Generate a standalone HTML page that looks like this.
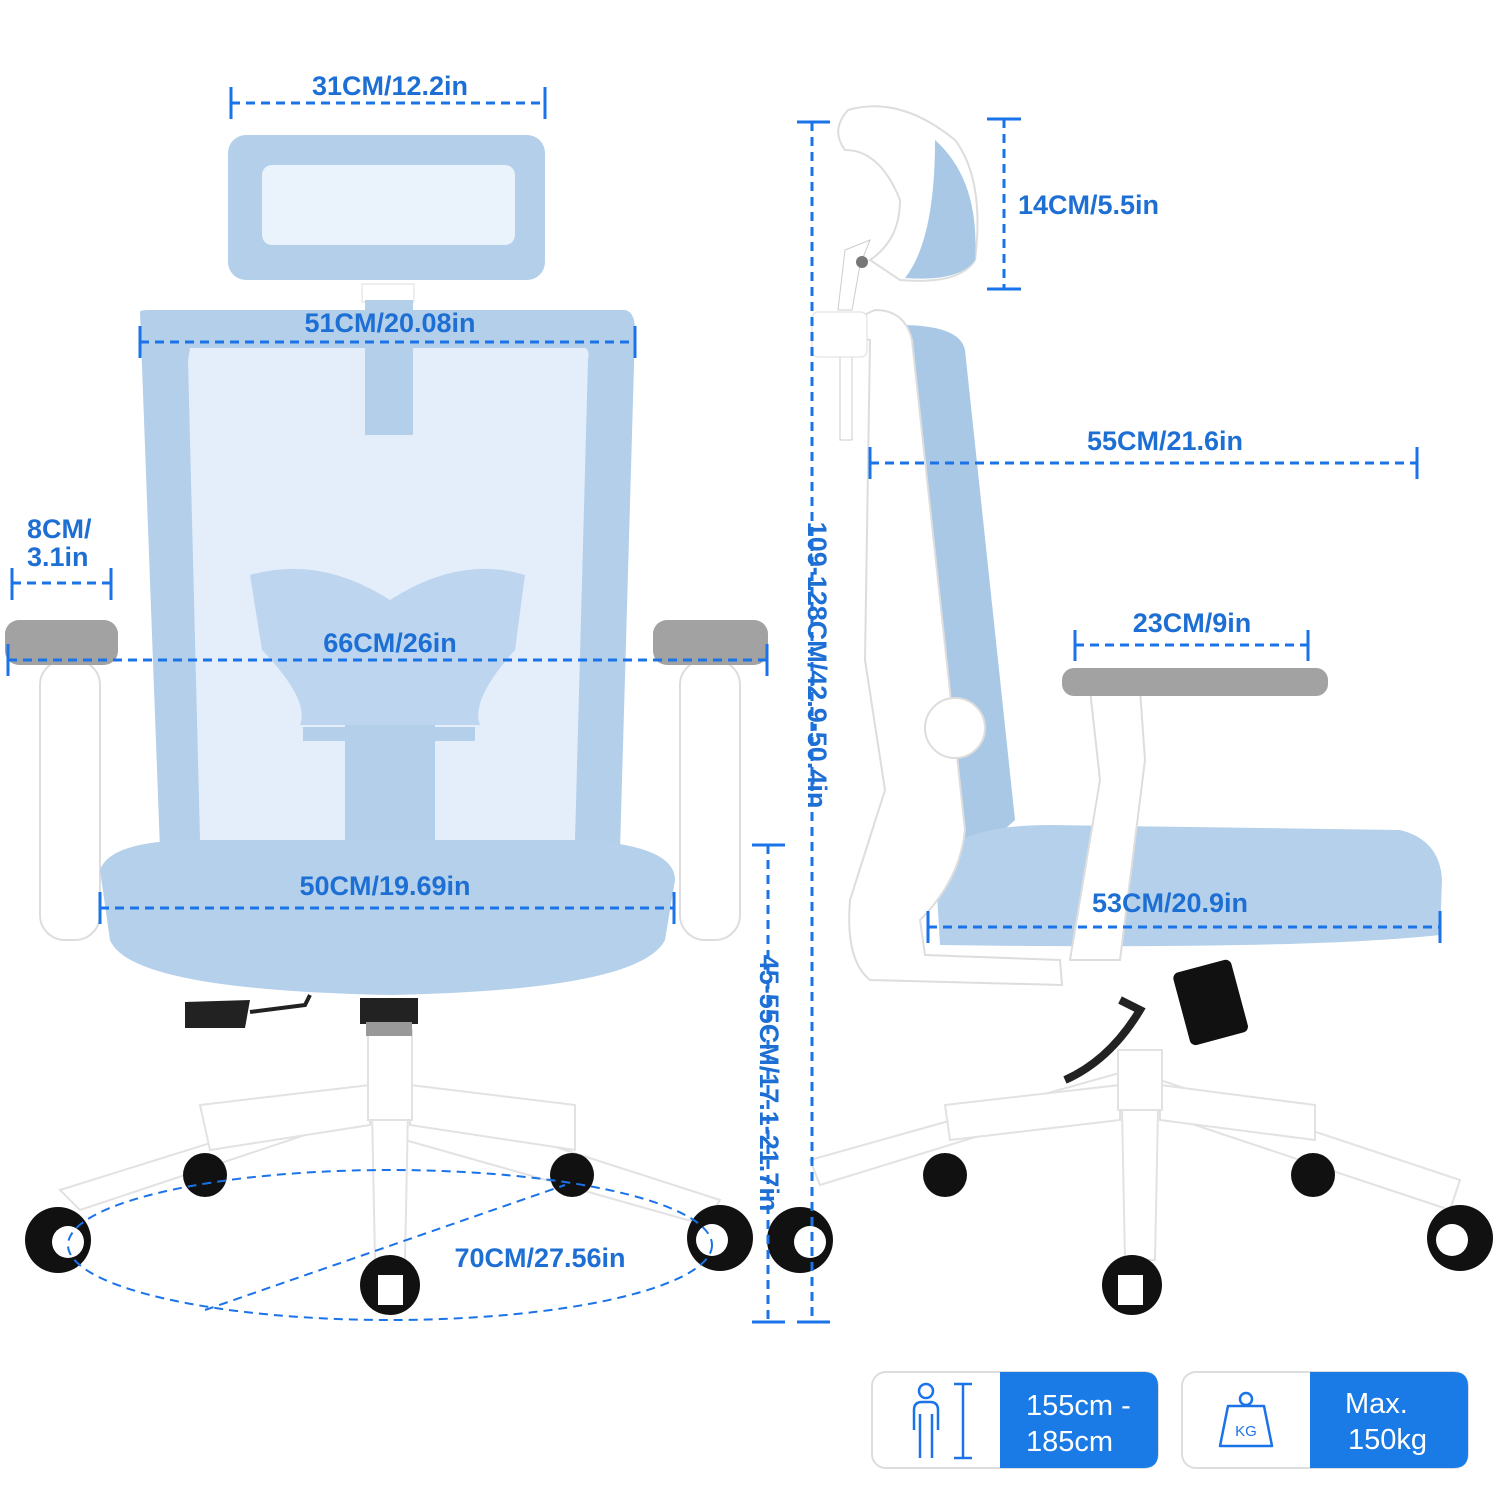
<!DOCTYPE html>
<html><head><meta charset="utf-8"><style>
html,body{margin:0;padding:0;background:#fff;}
svg{display:block}
.t{font-family:"Liberation Sans",sans-serif;font-weight:bold;font-size:27px;fill:#1d6fd4}
.d{stroke:#1a73e8;stroke-width:3;stroke-dasharray:9 6;fill:none}
.k{stroke:#1a73e8;stroke-width:3;fill:none}
.w{font-family:"Liberation Sans",sans-serif;font-size:29px;fill:#fff}
</style></head><body>
<svg width="1500" height="1500" viewBox="0 0 1500 1500" xmlns="http://www.w3.org/2000/svg">
<g fill="#fff" stroke="#e2e2e2" stroke-width="2">
<polygon points="370,1100 410,1100 720,1200 705,1225 405,1140"/>
<polygon points="370,1100 410,1100 80,1210 60,1190 380,1090"/>
<polygon points="200,1105 370,1085 370,1125 210,1150"/>
<polygon points="410,1085 575,1105 575,1150 410,1125"/>
<polygon points="372,1110 408,1110 405,1260 375,1260"/>
<rect x="368" y="1030" width="44" height="90"/>
</g>
<g fill="#111">
<circle cx="58" cy="1240" r="33"/><circle cx="720" cy="1238" r="33"/>
<circle cx="390" cy="1285" r="30"/><circle cx="205" cy="1175" r="22"/><circle cx="572" cy="1175" r="22"/>
</g>
<g fill="#fff"><circle cx="68" cy="1242" r="16"/><circle cx="712" cy="1240" r="16"/><rect x="378" y="1275" width="25" height="30"/></g>
<rect x="360" y="998" width="58" height="26" fill="#222"/>
<rect x="366" y="1022" width="46" height="14" fill="#999"/>
<path d="M185 1002 L250 1000 L245 1028 L185 1028 Z" fill="#222"/>
<path d="M250 1012 L305 1005 L310 995" stroke="#222" stroke-width="4" fill="none"/>
<rect x="40" y="660" width="60" height="280" rx="25" fill="#fff" stroke="#ddd" stroke-width="2"/>
<rect x="680" y="660" width="60" height="280" rx="25" fill="#fff" stroke="#ddd" stroke-width="2"/>
<rect x="5" y="620" width="113" height="45" rx="14" fill="#a2a2a2"/>
<rect x="653" y="620" width="115" height="45" rx="14" fill="#a2a2a2"/>
<path d="M140 312 Q140 310 150 310 L625 310 Q635 312 635 330 L620 850 L160 850 Z" fill="#b3cfea"/>
<path d="M190 348 L585 348 Q590 350 588 360 L575 840 L200 840 L188 360 Z" fill="#e3eefa"/>
<path d="M250 575 Q320 555 390 600 Q460 555 525 575 L515 650 Q470 700 480 725 L300 725 Q310 700 262 650 Z" fill="#bdd5ee"/>
<rect x="345" y="725" width="90" height="115" fill="#b3cfea"/>
<rect x="303" y="727" width="172" height="14" fill="#b3cfea"/>
<rect x="362" y="284" width="52" height="18" fill="#fff" stroke="#ddd"/>
<rect x="365" y="300" width="48" height="135" fill="#b3cfea"/>
<rect x="228" y="135" width="317" height="145" rx="18" fill="#b3cfea"/>
<rect x="262" y="165" width="253" height="80" rx="10" fill="#eaf2fb"/>
<path d="M100 870 Q110 840 200 840 L580 840 Q675 845 675 880 L665 940 Q640 990 390 995 Q130 990 110 940 Z" fill="#b5d0ea"/>
<text class="t" x="390" y="95" text-anchor="middle">31CM/12.2in</text>
<line class="d" x1="231" y1="103" x2="545" y2="103"/><line class="k" x1="231" y1="87" x2="231" y2="119"/><line class="k" x1="545" y1="87" x2="545" y2="119"/>
<text class="t" x="390" y="332" text-anchor="middle">51CM/20.08in</text>
<line class="d" x1="140" y1="342" x2="635" y2="342"/><line class="k" x1="140" y1="326" x2="140" y2="358"/><line class="k" x1="635" y1="326" x2="635" y2="358"/>
<text class="t" x="27" y="538">8CM/</text><text class="t" x="27" y="566">3.1in</text>
<line class="d" x1="12" y1="583" x2="111" y2="583"/><line class="k" x1="12" y1="568" x2="12" y2="600"/><line class="k" x1="111" y1="568" x2="111" y2="600"/>
<text class="t" x="390" y="652" text-anchor="middle">66CM/26in</text>
<line class="d" x1="8" y1="660" x2="767" y2="660"/><line class="k" x1="8" y1="644" x2="8" y2="676"/><line class="k" x1="767" y1="644" x2="767" y2="676"/>
<text class="t" x="385" y="895" text-anchor="middle">50CM/19.69in</text>
<line class="d" x1="100" y1="908" x2="674" y2="908"/><line class="k" x1="100" y1="892" x2="100" y2="924"/><line class="k" x1="674" y1="892" x2="674" y2="924"/>
<ellipse class="d" cx="390" cy="1245" rx="322" ry="75" style="stroke-width:2"/>
<line class="d" x1="205" y1="1310" x2="565" y2="1185" style="stroke-width:2"/>
<text class="t" x="540" y="1267" text-anchor="middle">70CM/27.56in</text>

<g fill="#fff" stroke="#e2e2e2" stroke-width="2">
<polygon points="1120,1080 1160,1080 1460,1180 1450,1210 1150,1110"/>
<polygon points="1120,1080 1160,1080 820,1185 810,1160 1130,1070"/>
<polygon points="945,1105 1120,1085 1120,1120 950,1140"/>
<polygon points="1160,1085 1315,1105 1315,1140 1160,1120"/>
<polygon points="1122,1110 1158,1110 1155,1260 1125,1260"/>
<rect x="1118" y="1050" width="44" height="60"/>
</g>
<g fill="#111">
<circle cx="800" cy="1240" r="33"/><circle cx="1460" cy="1238" r="33"/>
<circle cx="1132" cy="1285" r="30"/><circle cx="945" cy="1175" r="22"/><circle cx="1313" cy="1175" r="22"/>
</g>
<g fill="#fff"><circle cx="810" cy="1242" r="16"/><circle cx="1452" cy="1240" r="16"/><rect x="1118" y="1275" width="25" height="30"/></g>
<rect x="1180" y="965" width="60" height="75" rx="6" fill="#111" transform="rotate(-15 1210 1000)"/>
<path d="M1065 1080 Q1110 1060 1140 1010 L1120 1000" stroke="#222" stroke-width="8" fill="none"/>
<path d="M900 325 Q960 325 965 350 L1015 820 L960 870 L905 340 Z" fill="#a9c8e6"/>
<path d="M935 860 Q960 825 1050 825 L1400 830 Q1440 840 1442 880 L1440 935 Q1300 950 940 945 Z" fill="#b5d0ea"/>
<path d="M830 330 L875 310 Q905 310 912 340 L965 830 Q960 880 920 920 L925 955 L1060 960 L1062 985 L870 980 Q845 960 850 900 L885 790 L865 660 L870 340 Z" fill="#fff" stroke="#ddd" stroke-width="2"/>
<circle cx="955" cy="728" r="30" fill="#fff" stroke="#ddd" stroke-width="2"/>
<rect x="840" y="330" width="12" height="110" fill="#fff" stroke="#ccc"/>
<rect x="812" y="312" width="55" height="45" rx="6" fill="#fff" stroke="#ddd"/>
<path d="M848 110 Q900 95 955 140 Q985 180 975 260 Q960 285 900 280 L870 260 Q900 240 900 200 Q880 150 845 150 Q830 130 848 110 Z" fill="#fff" stroke="#ddd" stroke-width="2"/>
<path d="M935 140 Q980 180 975 260 Q960 282 905 278 Q935 240 935 140 Z" fill="#a9c8e6"/>
<path d="M870 240 L845 250 L838 310 L852 310 L860 265 Z" fill="#fff" stroke="#ccc"/>
<circle cx="862" cy="262" r="6" fill="#777"/>
<path d="M1090 690 L1140 690 L1145 760 L1120 960 L1070 960 L1100 780 Z" fill="#fff" stroke="#ddd" stroke-width="2"/>
<rect x="1062" y="668" width="266" height="28" rx="12" fill="#a2a2a2"/>
<line class="d" x1="812" y1="122" x2="812" y2="1322"/><line class="k" x1="797" y1="122" x2="830" y2="122"/><line class="k" x1="797" y1="1322" x2="830" y2="1322"/>
<text class="t" x="0" y="0" text-anchor="middle" transform="translate(808 665) rotate(90)">109-128CM/42.9-50.4in</text>
<line class="d" x1="768" y1="845" x2="768" y2="1322"/><line class="k" x1="752" y1="845" x2="785" y2="845"/><line class="k" x1="752" y1="1322" x2="785" y2="1322"/>
<text class="t" x="0" y="0" text-anchor="middle" transform="translate(760 1083) rotate(90)">45-55CM/17.1-21.7in</text>
<line class="d" x1="1004" y1="119" x2="1004" y2="289"/><line class="k" x1="987" y1="119" x2="1021" y2="119"/><line class="k" x1="987" y1="289" x2="1021" y2="289"/>
<text class="t" x="1018" y="214">14CM/5.5in</text>
<text class="t" x="1165" y="450" text-anchor="middle">55CM/21.6in</text>
<line class="d" x1="870" y1="463" x2="1417" y2="463"/><line class="k" x1="870" y1="447" x2="870" y2="479"/><line class="k" x1="1417" y1="447" x2="1417" y2="479"/>
<text class="t" x="1192" y="632" text-anchor="middle">23CM/9in</text>
<line class="d" x1="1075" y1="645" x2="1308" y2="645"/><line class="k" x1="1075" y1="630" x2="1075" y2="661"/><line class="k" x1="1308" y1="630" x2="1308" y2="661"/>
<text class="t" x="1170" y="912" text-anchor="middle">53CM/20.9in</text>
<line class="d" x1="928" y1="927" x2="1440" y2="927"/><line class="k" x1="928" y1="911" x2="928" y2="943"/><line class="k" x1="1440" y1="911" x2="1440" y2="943"/>

<rect x="872" y="1372" width="286" height="96" rx="14" fill="#fff" stroke="#ddd" stroke-width="2"/>
<path d="M1000 1372 L1144 1372 Q1158 1372 1158 1386 L1158 1454 Q1158 1468 1144 1468 L1000 1468 Z" fill="#1a7be6"/>
<circle cx="926" cy="1391" r="7" class="k" style="stroke-width:2.5"/>
<path d="M914 1430 L914 1410 Q914 1402 922 1402 L930 1402 Q938 1402 938 1410 L938 1430 M920 1414 L920 1458 M932 1414 L932 1458" class="k" style="stroke-width:2.5"/>
<path d="M954 1384 L972 1384 M963 1384 L963 1458 M954 1458 L972 1458" class="k" style="stroke-width:2.5"/>
<text class="w" x="1026" y="1415">155cm -</text><text class="w" x="1026" y="1451">185cm</text>
<rect x="1182" y="1372" width="286" height="96" rx="14" fill="#fff" stroke="#ddd" stroke-width="2"/>
<path d="M1310 1372 L1454 1372 Q1468 1372 1468 1386 L1468 1454 Q1468 1468 1454 1468 L1310 1468 Z" fill="#1a7be6"/>
<circle cx="1246" cy="1399" r="6" class="k" style="stroke-width:2.5"/>
<path d="M1228 1406 L1264 1406 L1272 1446 L1220 1446 Z" class="k" style="stroke-width:2.5;stroke-linejoin:round"/>
<text x="1246" y="1436" text-anchor="middle" style="font-family:'Liberation Sans',sans-serif;font-size:15px;fill:#1a73e8">KG</text>
<text class="w" x="1345" y="1413">Max.</text><text class="w" x="1348" y="1449">150kg</text>
</svg>
</body></html>
